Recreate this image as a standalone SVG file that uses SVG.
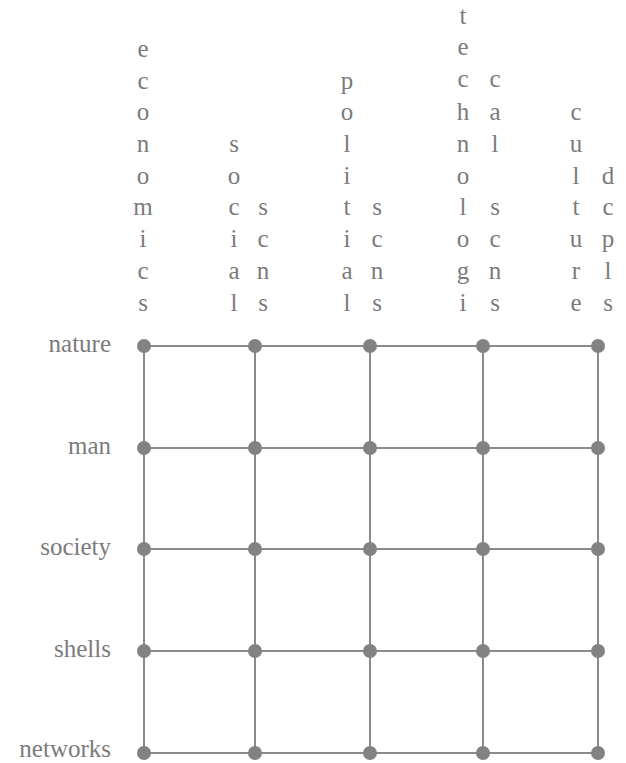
<svg xmlns="http://www.w3.org/2000/svg" width="626" height="763" viewBox="0 0 626 763">
<style>
.t{font-family:"Liberation Serif","Times New Roman",serif;font-size:25px;fill:#7b7b7b}
.c{text-anchor:middle}
.r{text-anchor:end}
.ln{stroke:#8a8a8a;stroke-width:2;fill:none}
.d{fill:#828282}
</style>
<rect width="626" height="763" fill="#ffffff"/>
<g id="column-labels" class="t c">
<g id="col-economics">
<text x="143" y="57">e</text><text x="143" y="89">c</text><text x="143" y="120">o</text><text x="143" y="152">n</text><text x="143" y="183.5">o</text><text x="143" y="215">m</text><text x="143" y="247">i</text><text x="143" y="279">c</text><text x="143" y="311">s</text>
</g>
<g id="col-social">
<text x="234" y="152">s</text><text x="234" y="183.5">o</text><text x="234" y="215">c</text><text x="234" y="247">i</text><text x="234" y="279">a</text><text x="234" y="311">l</text>
<text x="263" y="215">s</text><text x="263" y="247">c</text><text x="263" y="279">n</text><text x="263" y="311">s</text>
</g>
<g id="col-political">
<text x="347" y="89">p</text><text x="347" y="120">o</text><text x="347" y="152">l</text><text x="347" y="183.5">i</text><text x="347" y="215">t</text><text x="347" y="247">i</text><text x="347" y="279">a</text><text x="347" y="311">l</text>
<text x="377" y="215">s</text><text x="377" y="247">c</text><text x="377" y="279">n</text><text x="377" y="311">s</text>
</g>
<g id="col-technological">
<text x="463" y="24">t</text><text x="463" y="55">e</text><text x="463" y="87">c</text><text x="463" y="120">h</text><text x="463" y="152">n</text><text x="463" y="183.5">o</text><text x="463" y="215">l</text><text x="463" y="247">o</text><text x="463" y="279">g</text><text x="463" y="311">i</text>
<text x="495" y="87">c</text><text x="495" y="120">a</text><text x="495" y="152">l</text><text x="495" y="215">s</text><text x="495" y="247">c</text><text x="495" y="279">n</text><text x="495" y="311">s</text>
</g>
<g id="col-cultural">
<text x="576" y="120">c</text><text x="576" y="152">u</text><text x="576" y="183.5">l</text><text x="576" y="215">t</text><text x="576" y="247">u</text><text x="576" y="279">r</text><text x="576" y="311">e</text>
<text x="608" y="183.5">d</text><text x="608" y="215">c</text><text x="608" y="247">p</text><text x="608" y="279">l</text><text x="608" y="311">s</text>
</g>
</g>
<g id="row-labels" class="t r">
<text id="row-nature" x="111" y="352">nature</text>
<text id="row-man" x="111" y="454">man</text>
<text id="row-society" x="111" y="555">society</text>
<text id="row-shells" x="111" y="657">shells</text>
<text id="row-networks" x="111" y="757">networks</text>
</g>
<g id="connectors" class="ln">
<line x1="144" y1="346" x2="598" y2="346"/>
<line x1="144" y1="448" x2="598" y2="448"/>
<line x1="144" y1="549" x2="598" y2="549"/>
<line x1="144" y1="651" x2="598" y2="651"/>
<line x1="144" y1="753" x2="598" y2="753"/>
<line x1="144" y1="346" x2="144" y2="753"/>
<line x1="255" y1="346" x2="255" y2="753"/>
<line x1="370" y1="346" x2="370" y2="753"/>
<line x1="483" y1="346" x2="483" y2="753"/>
<line x1="598" y1="346" x2="598" y2="753"/>
</g>
<g id="nodes" class="d">
<g id="n-1-1"><circle cx="144" cy="346" r="7"/></g>
<g id="n-1-2"><circle cx="255" cy="346" r="7"/></g>
<g id="n-1-3"><circle cx="370" cy="346" r="7"/></g>
<g id="n-1-4"><circle cx="483" cy="346" r="7"/></g>
<g id="n-1-5"><circle cx="598" cy="346" r="7"/></g>
<g id="n-2-1"><circle cx="144" cy="448" r="7"/></g>
<g id="n-2-2"><circle cx="255" cy="448" r="7"/></g>
<g id="n-2-3"><circle cx="370" cy="448" r="7"/></g>
<g id="n-2-4"><circle cx="483" cy="448" r="7"/></g>
<g id="n-2-5"><circle cx="598" cy="448" r="7"/></g>
<g id="n-3-1"><circle cx="144" cy="549" r="7"/></g>
<g id="n-3-2"><circle cx="255" cy="549" r="7"/></g>
<g id="n-3-3"><circle cx="370" cy="549" r="7"/></g>
<g id="n-3-4"><circle cx="483" cy="549" r="7"/></g>
<g id="n-3-5"><circle cx="598" cy="549" r="7"/></g>
<g id="n-4-1"><circle cx="144" cy="651" r="7"/></g>
<g id="n-4-2"><circle cx="255" cy="651" r="7"/></g>
<g id="n-4-3"><circle cx="370" cy="651" r="7"/></g>
<g id="n-4-4"><circle cx="483" cy="651" r="7"/></g>
<g id="n-4-5"><circle cx="598" cy="651" r="7"/></g>
<g id="n-5-1"><circle cx="144" cy="753" r="7"/></g>
<g id="n-5-2"><circle cx="255" cy="753" r="7"/></g>
<g id="n-5-3"><circle cx="370" cy="753" r="7"/></g>
<g id="n-5-4"><circle cx="483" cy="753" r="7"/></g>
<g id="n-5-5"><circle cx="598" cy="753" r="7"/></g>
</g>
</svg>
